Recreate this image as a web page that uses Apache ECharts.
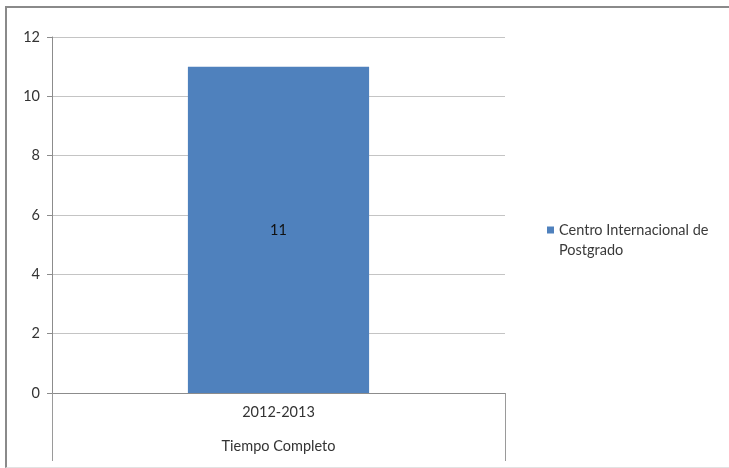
<!DOCTYPE html>
<html>
<head>
<meta charset="utf-8">
<script src="https://cdn.jsdelivr.net/npm/echarts@6/dist/echarts.min.js"></script>
<style>
  html, body { margin: 0; padding: 0; background: #fff; }
  #frame { position: absolute; left: 5px; top: 6px; width: 760px; height: 459px;
           border-top: 2px solid #8a8a8a; border-left: 2px solid #8a8a8a; border-bottom: 1px solid #e2e2e2; }
  #chart { position: absolute; left: 0; top: 0; width: 729px; height: 468px; }
</style>
</head>
<body>
<div id="frame"></div>
<div id="chart"></div>
<script>
const categoryYears = ['2012-2013'];
const categoryGroups = ['Tiempo Completo'];
const seriesName = 'Centro Internacional de Postgrado';
const seriesValues = [11];
const yTicks = { min: 0, max: 12, interval: 2 };

const chart = echarts.init(document.getElementById('chart'));
const font = 'Lato, "Open Sans", "Liberation Sans", sans-serif';
const fs = 14.5;
chart.setOption({
  animation: false,
  textStyle: { fontFamily: font },
  grid: { left: 52, right: 224, top: 37, bottom: 75 },
  legend: {
    orient: 'vertical', left: 542, top: 195,
    icon: 'rect', itemWidth: 7, itemHeight: 7, itemGap: 4,
    formatter: n => ' \n' + n.replace('Internacional de ', 'Internacional de\n'),
    textStyle: { fontSize: fs, color: '#3a3a3a', lineHeight: 20, fontFamily: font }
  },
  xAxis: {
    type: 'category',
    data: categoryYears.map((y, i) => y + '\n' + categoryGroups[i]),
    axisLine: { lineStyle: { color: '#8c8c8c', width: 1 } },
    axisTick: { show: true, length: 68, lineStyle: { color: '#9a9a9a' } },
    axisLabel: {
      margin: 2, color: '#333', fontSize: fs, lineHeight: 34,
      formatter: v => v
    }
  },
  yAxis: {
    type: 'value', min: yTicks.min, max: yTicks.max, interval: yTicks.interval,
    axisLine: { show: true, lineStyle: { color: '#8c8c8c' } },
    axisTick: { show: true, length: 5, lineStyle: { color: '#8c8c8c' } },
    axisLabel: { color: '#333', fontSize: fs, margin: 12 },
    splitLine: { lineStyle: { color: '#c4c4c4' } }
  },
  series: [{
    name: seriesName, type: 'bar', data: seriesValues, barWidth: '40%',
    itemStyle: { color: '#4F81BD' },
    label: { show: true, position: 'inside', color: '#111', fontSize: fs }
  }]
});
</script>
</body>
</html>
